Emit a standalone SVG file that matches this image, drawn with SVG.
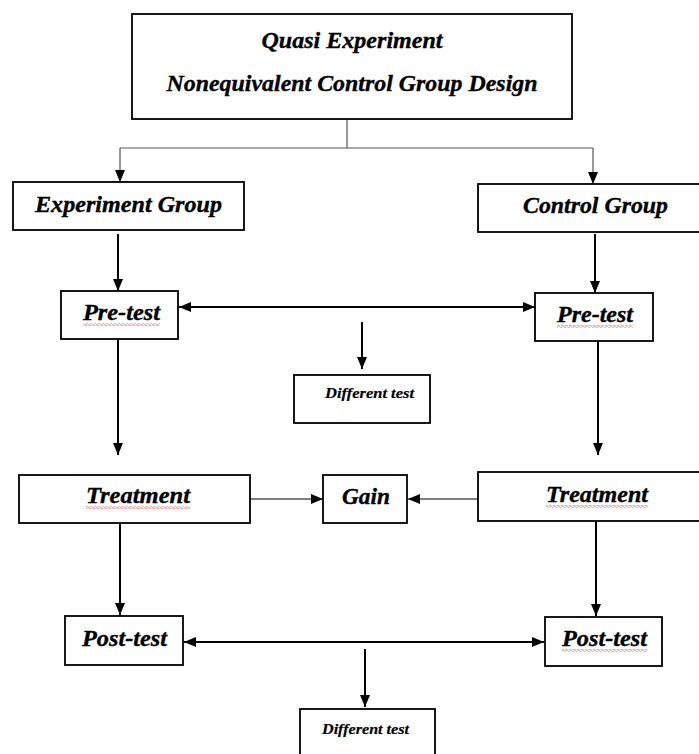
<svg xmlns="http://www.w3.org/2000/svg" width="699" height="754" viewBox="0 0 699 754">
<style>
.box{fill:#fff;stroke:#000;stroke-width:1.8}
.t{font-family:"Liberation Serif","Times New Roman",serif;font-weight:bold;font-style:italic;font-size:23.5px;fill:#000;stroke:#000;stroke-width:0.35;text-anchor:middle}
.s{font-size:15px;stroke-width:0.2}
.c{fill:none;stroke:#000;stroke-width:2}
.thin{fill:none;stroke:#000;stroke-width:1.2}
.tree{fill:none;stroke:#555;stroke-width:1.2}
.sq{fill:url(#wave)}
</style>
<defs>
<marker id="ah" viewBox="0 0 12 10" refX="12" refY="5" markerWidth="12" markerHeight="10" markerUnits="userSpaceOnUse" orient="auto-start-reverse">
<path d="M0,0 L12,5 L0,10 z" fill="#000"/>
</marker>
<pattern id="wave" width="4" height="3" patternUnits="userSpaceOnUse">
<path d="M0,1.5 L1,0.5 L3,2.5 L4,1.5" fill="none" stroke="#e0403a" stroke-width="0.9"/>
</pattern>
</defs>
<rect width="699" height="754" fill="#fff"/>

<g id="connectors">
<path class="tree" d="M347,119 V148 M120,148 H593"/>
<path class="tree" d="M120,148 V182" marker-end="url(#ah)"/>
<path class="tree" d="M593,148 V184" marker-end="url(#ah)"/>
<path class="c" d="M118,234 V291" marker-end="url(#ah)"/>
<path class="c" d="M595,234 V293" marker-end="url(#ah)"/>
<path class="c" d="M179,307 H535" marker-start="url(#ah)" marker-end="url(#ah)"/>
<path class="c" d="M362,322 V369" marker-end="url(#ah)"/>
<path class="c" d="M118,340 V455" marker-end="url(#ah)"/>
<path class="c" d="M598,341 V455" marker-end="url(#ah)"/>
<path class="thin" d="M250,499 H323" marker-end="url(#ah)"/>
<path class="thin" d="M479,499 H408" marker-end="url(#ah)"/>
<path class="c" d="M120,523 V615" marker-end="url(#ah)"/>
<path class="c" d="M596,521 V616" marker-end="url(#ah)"/>
<path class="c" d="M184,642 H544" marker-start="url(#ah)" marker-end="url(#ah)"/>
<path class="c" d="M365,649 V707" marker-end="url(#ah)"/>
</g>

<g id="title">
<rect class="box" x="132" y="14" width="440" height="105"/>
<text class="t" x="352" y="48" textLength="181" lengthAdjust="spacingAndGlyphs">Quasi Experiment</text>
<text class="t" x="352" y="91" textLength="371" lengthAdjust="spacingAndGlyphs">Nonequivalent Control Group Design</text>
</g>

<g id="experiment-group">
<rect class="box" x="13" y="182" width="231" height="48"/>
<text class="t" x="128.5" y="212" textLength="187" lengthAdjust="spacingAndGlyphs">Experiment Group</text>
</g>

<g id="control-group">
<rect class="box" x="478" y="184" width="224" height="48"/>
<text class="t" x="595.5" y="213" textLength="145" lengthAdjust="spacingAndGlyphs">Control Group</text>
</g>

<g id="pretest-exp">
<rect class="box" x="61" y="291" width="117" height="48"/>
<text class="t" x="121.5" y="320" textLength="77" lengthAdjust="spacingAndGlyphs">Pre-test</text>
<rect class="sq" x="83" y="323" width="77" height="3"/>
</g>

<g id="pretest-ctrl">
<rect class="box" x="535" y="293" width="118" height="48"/>
<text class="t" x="595" y="322" textLength="76" lengthAdjust="spacingAndGlyphs">Pre-test</text>
<rect class="sq" x="557" y="325" width="76" height="3"/>
</g>

<g id="different-test-1">
<rect class="box" x="294" y="375" width="136" height="48"/>
<text class="t s" x="369.5" y="398" textLength="89" lengthAdjust="spacingAndGlyphs">Different test</text>
</g>

<g id="treatment-exp">
<rect class="box" x="19" y="475" width="231" height="48"/>
<text class="t" x="138" y="503" textLength="104" lengthAdjust="spacingAndGlyphs">Treatment</text>
<rect class="sq" x="86" y="506" width="104" height="3"/>
</g>

<g id="gain">
<rect class="box" x="323" y="475" width="84" height="48"/>
<text class="t" x="366" y="504" textLength="48" lengthAdjust="spacingAndGlyphs">Gain</text>
</g>

<g id="treatment-ctrl">
<rect class="box" x="478" y="472" width="224" height="49"/>
<text class="t" x="597" y="502" textLength="102" lengthAdjust="spacingAndGlyphs">Treatment</text>
<rect class="sq" x="546" y="505" width="102" height="3"/>
</g>

<g id="posttest-exp">
<rect class="box" x="65" y="616" width="118" height="49"/>
<text class="t" x="124.5" y="646" textLength="85" lengthAdjust="spacingAndGlyphs">Post-test</text>
</g>

<g id="posttest-ctrl">
<rect class="box" x="545" y="617" width="117" height="49"/>
<text class="t" x="604.5" y="646" textLength="85" lengthAdjust="spacingAndGlyphs">Post-test</text>
<rect class="sq" x="562" y="649" width="85" height="3"/>
</g>

<g id="different-test-2">
<rect class="box" x="300" y="709" width="135" height="50"/>
<text class="t s" x="365.5" y="734" textLength="87" lengthAdjust="spacingAndGlyphs">Different test</text>
</g>
</svg>
